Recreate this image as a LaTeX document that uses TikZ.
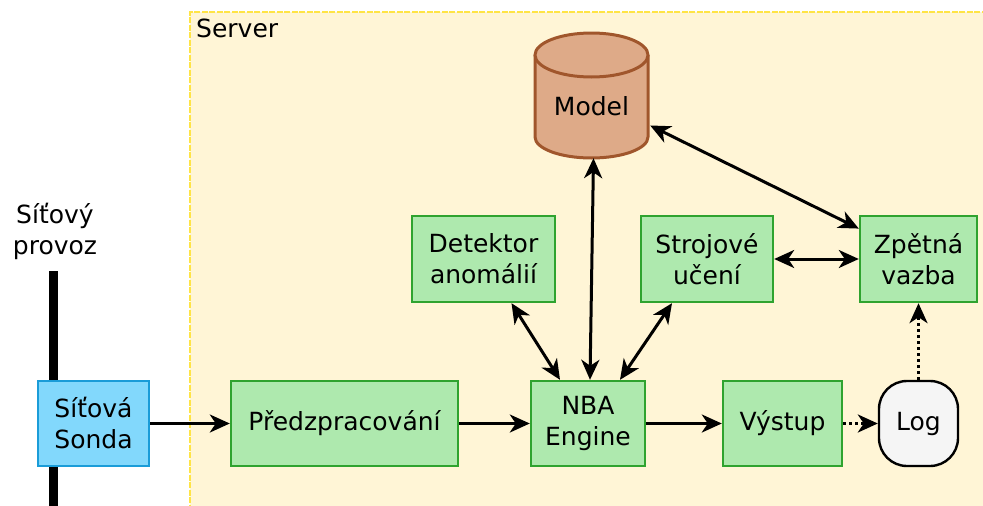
\documentclass[tikz,border=0pt]{standalone}
\usepackage{fontspec}
\setmainfont{DejaVu Sans}
\usetikzlibrary{arrows.meta,calc}

\definecolor{serverfill}{HTML}{FFF5D6}
\definecolor{serveredge}{HTML}{FFE445}
\definecolor{greenfill}{HTML}{AEE9AE}
\definecolor{greenedge}{HTML}{2FA32F}
\definecolor{bluefill}{HTML}{82D8FC}
\definecolor{blueedge}{HTML}{1A9CD8}
\definecolor{modelfill}{HTML}{DEAA88}
\definecolor{modeledge}{HTML}{A0562C}
\definecolor{logfill}{HTML}{F5F5F5}

\tikzset{
  txt/.style={font=\fontsize{25}{31}\selectfont, align=center, inner sep=0pt},
  greenbox/.style={txt, draw=greenedge, fill=greenfill, line width=2.4pt},
  bluebox/.style={txt, draw=blueedge, fill=bluefill, line width=2.4pt},
  logbox/.style={txt, draw=black, fill=logfill, line width=2.4pt, rounded corners=28pt},
  arrowtip/.tip={Stealth[length=20pt,width=18pt,inset=6pt]},
  conn/.style={line width=3pt, -arrowtip},
  biconn/.style={line width=3pt, arrowtip-arrowtip},
  dotconn/.style={line width=3.2pt, dash pattern=on 3pt off 3pt, -arrowtip}
}

\begin{document}
\begin{tikzpicture}[x=1pt,y=-1pt]
\useasboundingbox (0,0) rectangle (983,506);

% server area
\fill[serverfill] (190,12) rectangle (995,520);
\draw[serveredge, line width=2.2pt, dash pattern=on 6pt off 1.5pt] (995,12) -- (190,12) -- (190,520);
\node[txt, anchor=west] (srv) at (196,28) {Server};

% network traffic line
\node[txt] (traffic) at (55,231) {Síťový\\provoz};
\coordinate (lineTop) at (53,271);
\coordinate (lineBot) at (53,515);
\draw[line width=9pt] (lineTop) -- (lineBot);

% model database
\fill[modelfill] (535,55) rectangle (648,137);
\fill[modelfill] (591.5,137) ellipse [x radius=56.5, y radius=21];
\draw[modeledge, line width=3pt] (535,55) -- (535,137) arc[start angle=180, end angle=0, x radius=56.5, y radius=21] -- (648,55);
\filldraw[fill=modelfill, draw=modeledge, line width=3pt] (591.5,55) ellipse [x radius=56.5, y radius=22];
\node[inner sep=0pt, minimum width=113pt, minimum height=125pt] (model) at (591.5,95.5) {};
\node[txt] (modellbl) at (591.5,106) {Model};

% blocks
\node[bluebox, minimum width=111pt, minimum height=85pt] (sonda) at (93.5,423.5) {Síťová\\Sonda};
\node[greenbox, minimum width=227pt, minimum height=85pt] (pre) at (344.5,423.5) {Předzpracování};
\node[greenbox, minimum width=114pt, minimum height=85pt] (nba) at (588,423.5) {NBA\\Engine};
\node[greenbox, minimum width=119pt, minimum height=85pt] (out) at (782.5,423.5) {Výstup};
\node[logbox, minimum width=79pt, minimum height=85pt] (log) at (918.5,423.5) {Log};
\node[greenbox, minimum width=143pt, minimum height=86pt] (det) at (483.5,259) {Detektor\\anomálií};
\node[greenbox, minimum width=132pt, minimum height=86pt] (ml) at (707,259) {Strojové\\učení};
\node[greenbox, minimum width=117pt, minimum height=86pt] (fb) at (918.5,259) {Zpětná\\vazba};

% connectors
\draw[conn] (sonda) -- (pre);
\draw[conn] (pre) -- (nba);
\draw[conn] (nba) -- (out);
\draw[dotconn] (out) -- (log);
\draw[dotconn] (log) -- (fb);
\draw[biconn] (ml) -- (fb);
\draw[biconn] ($(det.south)+(28,0)$) -- ($(nba.north)+(-28,0)$);
\draw[biconn] ($(ml.south)+(-35,0)$) -- ($(nba.north)+(32,0)$);
\draw[biconn] ($(model.south)+(2,0)$) -- ($(nba.north)+(2,0)$);
\draw[biconn] ($(model.east)+(2,30)$) -- (fb.153);
\end{tikzpicture}
\end{document}
